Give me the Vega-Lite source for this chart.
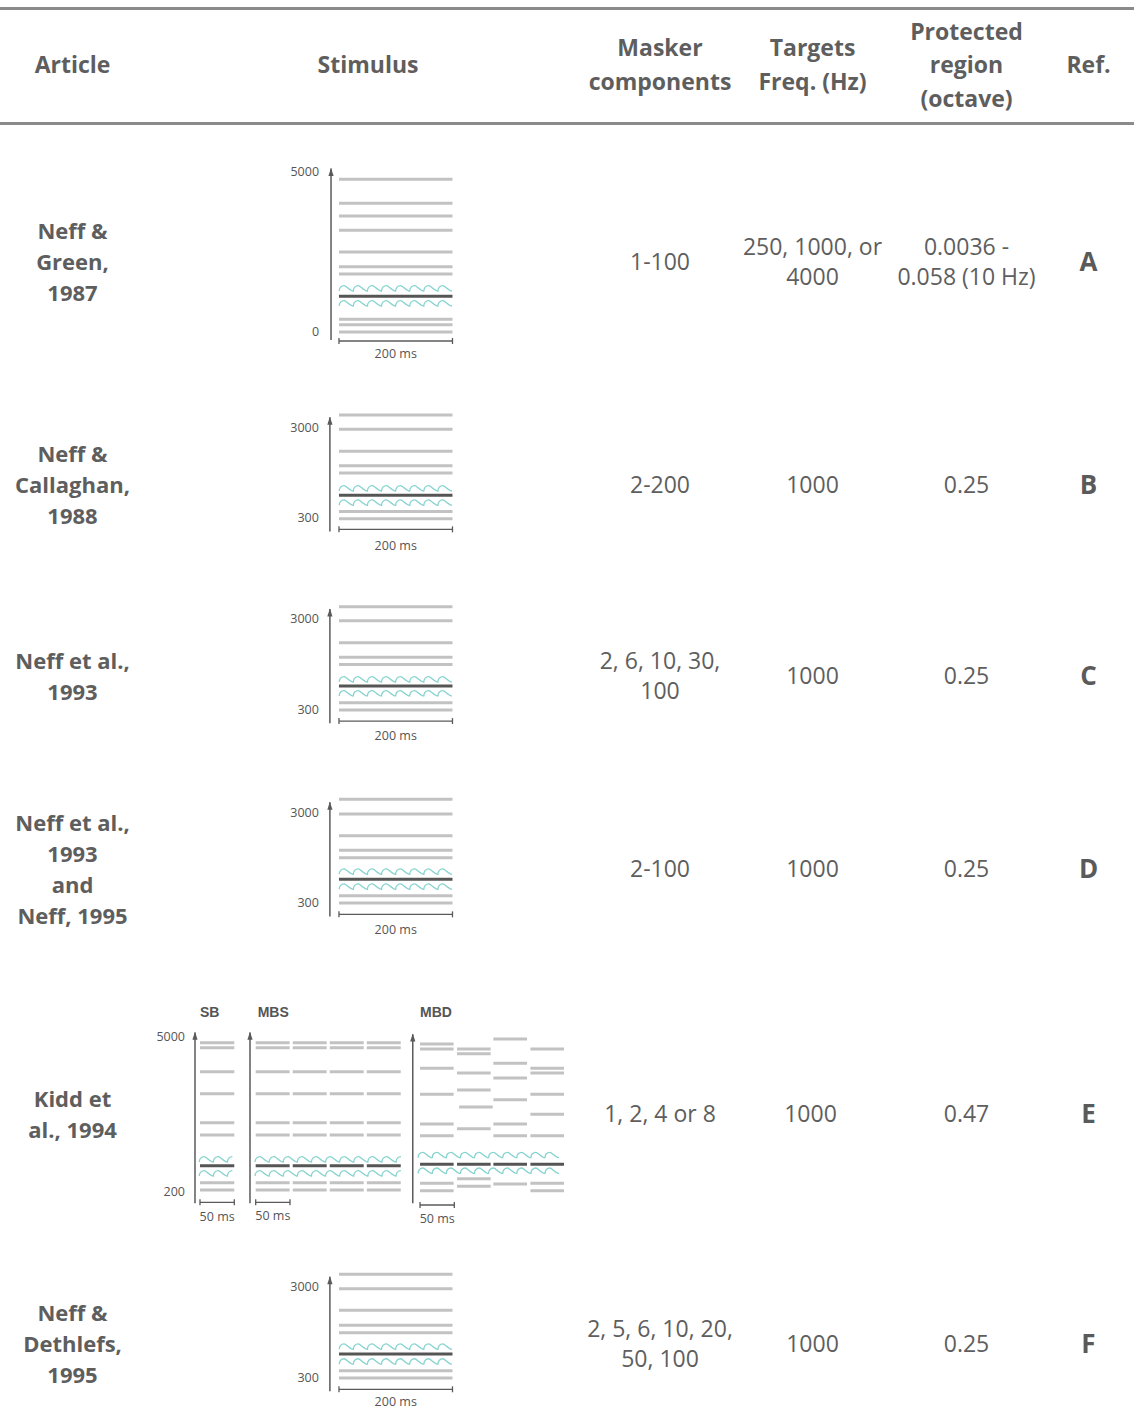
{
"$schema":"https://vega.github.io/schema/vega-lite/v6.json",
"padding":{"top":7,"bottom":0,"left":0,"right":0},
"background":"#ffffff",
"spacing":0,
"config":{"view":{"stroke":null},"concat":{"spacing":0},"axis":{"disable":true},"legend":{"disable":true}},
"datasets":{
"columns":[
{"col":"article","label":"Article"},
{"col":"stimulus","label":"Stimulus"},
{"col":"masker","label":"Masker\ncomponents"},
{"col":"targets","label":"Targets\nFreq. (Hz)"},
{"col":"protected","label":"Protected\nregion\n(octave)"},
{"col":"ref","label":"Ref."}
],
"table":[
{"ref":"A","article":"Neff &\nGreen,\n1987","masker":"1-100","targets":"250, 1000, or\n4000","protected":"0.0036 -\n0.058 (10 Hz)"},
{"ref":"B","article":"Neff &\nCallaghan,\n1988","masker":"2-200","targets":"1000","protected":"0.25"},
{"ref":"C","article":"Neff et al.,\n1993","masker":"2, 6, 10, 30,\n100","targets":"1000","protected":"0.25"},
{"ref":"D","article":"Neff et al.,\n1993\nand\nNeff, 1995","masker":"2-100","targets":"1000","protected":"0.25"},
{"ref":"E","article":"Kidd et\nal., 1994","masker":"1, 2, 4 or 8","targets":"1000","protected":"0.47"},
{"ref":"F","article":"Neff &\nDethlefs,\n1995","masker":"2, 5, 6, 10, 20,\n50, 100","targets":"1000","protected":"0.25"}
],
"stim":[
{"ref":"A","kind":"masker","t0":0,"t1":200,"f":4770},
{"ref":"A","kind":"masker","t0":0,"t1":200,"f":4020},
{"ref":"A","kind":"masker","t0":0,"t1":200,"f":3625},
{"ref":"A","kind":"masker","t0":0,"t1":200,"f":3180},
{"ref":"A","kind":"masker","t0":0,"t1":200,"f":2500},
{"ref":"A","kind":"masker","t0":0,"t1":200,"f":2040},
{"ref":"A","kind":"masker","t0":0,"t1":200,"f":1810},
{"ref":"A","kind":"masker","t0":0,"t1":200,"f":395},
{"ref":"A","kind":"masker","t0":0,"t1":200,"f":230},
{"ref":"A","kind":"masker","t0":0,"t1":200,"f":0},
{"ref":"A","kind":"target","t0":0,"t1":200,"f":1115},
{"ref":"A","kind":"wave","t":100,"f":1366},
{"ref":"A","kind":"wave","t":100,"f":897},
{"ref":"A","kind":"axis","f":5000,"label":"5000"},
{"ref":"A","kind":"axis","f":0,"label":"0"},
{"ref":"A","kind":"scale","t0":0,"t1":200,"tmid":100,"label":"200 ms"},

{"ref":"B","kind":"masker","t0":0,"t1":200,"f":3380},
{"ref":"B","kind":"masker","t0":0,"t1":200,"f":2955},
{"ref":"B","kind":"masker","t0":0,"t1":200,"f":2300},
{"ref":"B","kind":"masker","t0":0,"t1":200,"f":1870},
{"ref":"B","kind":"masker","t0":0,"t1":200,"f":1650},
{"ref":"B","kind":"masker","t0":0,"t1":200,"f":500},
{"ref":"B","kind":"masker","t0":0,"t1":200,"f":290},
{"ref":"B","kind":"target","t0":0,"t1":200,"f":990},
{"ref":"B","kind":"wave","t":100,"f":1195},
{"ref":"B","kind":"wave","t":100,"f":770},
{"ref":"B","kind":"axis","f":3000,"label":"3000"},
{"ref":"B","kind":"axis","f":300,"label":"300"},
{"ref":"B","kind":"scale","t0":0,"t1":200,"tmid":100,"label":"200 ms"},

{"ref":"C","kind":"masker","t0":0,"t1":200,"f":3380},
{"ref":"C","kind":"masker","t0":0,"t1":200,"f":2960},
{"ref":"C","kind":"masker","t0":0,"t1":200,"f":2305},
{"ref":"C","kind":"masker","t0":0,"t1":200,"f":1870},
{"ref":"C","kind":"masker","t0":0,"t1":200,"f":1660},
{"ref":"C","kind":"masker","t0":0,"t1":200,"f":515},
{"ref":"C","kind":"masker","t0":0,"t1":200,"f":300},
{"ref":"C","kind":"target","t0":0,"t1":200,"f":1015},
{"ref":"C","kind":"wave","t":100,"f":1215},
{"ref":"C","kind":"wave","t":100,"f":800},
{"ref":"C","kind":"axis","f":3000,"label":"3000"},
{"ref":"C","kind":"axis","f":300,"label":"300"},
{"ref":"C","kind":"scale","t0":0,"t1":200,"tmid":100,"label":"200 ms"},

{"ref":"D","kind":"masker","t0":0,"t1":200,"f":3400},
{"ref":"D","kind":"masker","t0":0,"t1":200,"f":2965},
{"ref":"D","kind":"masker","t0":0,"t1":200,"f":2315},
{"ref":"D","kind":"masker","t0":0,"t1":200,"f":1880},
{"ref":"D","kind":"masker","t0":0,"t1":200,"f":1660},
{"ref":"D","kind":"masker","t0":0,"t1":200,"f":525},
{"ref":"D","kind":"masker","t0":0,"t1":200,"f":310},
{"ref":"D","kind":"target","t0":0,"t1":200,"f":1020},
{"ref":"D","kind":"wave","t":100,"f":1245},
{"ref":"D","kind":"wave","t":100,"f":800},
{"ref":"D","kind":"axis","f":3000,"label":"3000"},
{"ref":"D","kind":"axis","f":300,"label":"300"},
{"ref":"D","kind":"scale","t0":0,"t1":200,"tmid":100,"label":"200 ms"},

{"ref":"F","kind":"masker","t0":0,"t1":200,"f":3390},
{"ref":"F","kind":"masker","t0":0,"t1":200,"f":2960},
{"ref":"F","kind":"masker","t0":0,"t1":200,"f":2315},
{"ref":"F","kind":"masker","t0":0,"t1":200,"f":1870},
{"ref":"F","kind":"masker","t0":0,"t1":200,"f":1650},
{"ref":"F","kind":"masker","t0":0,"t1":200,"f":515},
{"ref":"F","kind":"masker","t0":0,"t1":200,"f":295},
{"ref":"F","kind":"target","t0":0,"t1":200,"f":1010},
{"ref":"F","kind":"wave","t":100,"f":1235},
{"ref":"F","kind":"wave","t":100,"f":790},
{"ref":"F","kind":"axis","f":3000,"label":"3000"},
{"ref":"F","kind":"axis","f":300,"label":"300"},
{"ref":"F","kind":"scale","t0":0,"t1":200,"tmid":100,"label":"200 ms"},

{"ref":"E","panel":"SB","kind":"masker","t0":0,"t1":50,"f":4814},
{"ref":"E","panel":"SB","kind":"masker","t0":0,"t1":50,"f":4660},
{"ref":"E","panel":"SB","kind":"masker","t0":0,"t1":50,"f":3916},
{"ref":"E","panel":"SB","kind":"masker","t0":0,"t1":50,"f":3235},
{"ref":"E","panel":"SB","kind":"masker","t0":0,"t1":50,"f":2337},
{"ref":"E","panel":"SB","kind":"masker","t0":0,"t1":50,"f":1956},
{"ref":"E","panel":"SB","kind":"masker","t0":0,"t1":50,"f":479},
{"ref":"E","panel":"SB","kind":"masker","t0":0,"t1":50,"f":253},
{"ref":"E","panel":"SB","kind":"target","t0":0,"t1":50,"f":1000},
{"ref":"E","panel":"SB","kind":"wave","t":23,"f":1203},
{"ref":"E","panel":"SB","kind":"wave","t":23,"f":770},
{"ref":"E","panel":"SB","kind":"axis","f":5000,"label":"5000"},
{"ref":"E","panel":"SB","kind":"axis","f":200,"label":"200"},
{"ref":"E","panel":"SB","kind":"scale","t0":0,"t1":50,"tmid":25,"label":"50 ms"},
{"ref":"E","panel":"SB","kind":"panel","label":"SB"},

{"ref":"E","panel":"MBS","kind":"masker","t0":0,"t1":49.5,"f":4814},
{"ref":"E","panel":"MBS","kind":"masker","t0":0,"t1":49.5,"f":4660},
{"ref":"E","panel":"MBS","kind":"masker","t0":0,"t1":49.5,"f":3916},
{"ref":"E","panel":"MBS","kind":"masker","t0":0,"t1":49.5,"f":3235},
{"ref":"E","panel":"MBS","kind":"masker","t0":0,"t1":49.5,"f":2337},
{"ref":"E","panel":"MBS","kind":"masker","t0":0,"t1":49.5,"f":1956},
{"ref":"E","panel":"MBS","kind":"masker","t0":0,"t1":49.5,"f":479},
{"ref":"E","panel":"MBS","kind":"masker","t0":0,"t1":49.5,"f":253},
{"ref":"E","panel":"MBS","kind":"masker","t0":54,"t1":103.5,"f":4814},
{"ref":"E","panel":"MBS","kind":"masker","t0":54,"t1":103.5,"f":4660},
{"ref":"E","panel":"MBS","kind":"masker","t0":54,"t1":103.5,"f":3916},
{"ref":"E","panel":"MBS","kind":"masker","t0":54,"t1":103.5,"f":3235},
{"ref":"E","panel":"MBS","kind":"masker","t0":54,"t1":103.5,"f":2337},
{"ref":"E","panel":"MBS","kind":"masker","t0":54,"t1":103.5,"f":1956},
{"ref":"E","panel":"MBS","kind":"masker","t0":54,"t1":103.5,"f":479},
{"ref":"E","panel":"MBS","kind":"masker","t0":54,"t1":103.5,"f":253},
{"ref":"E","panel":"MBS","kind":"masker","t0":108,"t1":157.5,"f":4814},
{"ref":"E","panel":"MBS","kind":"masker","t0":108,"t1":157.5,"f":4660},
{"ref":"E","panel":"MBS","kind":"masker","t0":108,"t1":157.5,"f":3916},
{"ref":"E","panel":"MBS","kind":"masker","t0":108,"t1":157.5,"f":3235},
{"ref":"E","panel":"MBS","kind":"masker","t0":108,"t1":157.5,"f":2337},
{"ref":"E","panel":"MBS","kind":"masker","t0":108,"t1":157.5,"f":1956},
{"ref":"E","panel":"MBS","kind":"masker","t0":108,"t1":157.5,"f":479},
{"ref":"E","panel":"MBS","kind":"masker","t0":108,"t1":157.5,"f":253},
{"ref":"E","panel":"MBS","kind":"masker","t0":162,"t1":211.5,"f":4814},
{"ref":"E","panel":"MBS","kind":"masker","t0":162,"t1":211.5,"f":4660},
{"ref":"E","panel":"MBS","kind":"masker","t0":162,"t1":211.5,"f":3916},
{"ref":"E","panel":"MBS","kind":"masker","t0":162,"t1":211.5,"f":3235},
{"ref":"E","panel":"MBS","kind":"masker","t0":162,"t1":211.5,"f":2337},
{"ref":"E","panel":"MBS","kind":"masker","t0":162,"t1":211.5,"f":1956},
{"ref":"E","panel":"MBS","kind":"masker","t0":162,"t1":211.5,"f":479},
{"ref":"E","panel":"MBS","kind":"masker","t0":162,"t1":211.5,"f":253},
{"ref":"E","panel":"MBS","kind":"target","t0":0,"t1":49.5,"f":1000},
{"ref":"E","panel":"MBS","kind":"target","t0":54,"t1":103.5,"f":1000},
{"ref":"E","panel":"MBS","kind":"target","t0":108,"t1":157.5,"f":1000},
{"ref":"E","panel":"MBS","kind":"target","t0":162,"t1":211.5,"f":1000},
{"ref":"E","panel":"MBS","kind":"wave","t":105.5,"f":1203},
{"ref":"E","panel":"MBS","kind":"wave","t":105.5,"f":770},
{"ref":"E","panel":"MBS","kind":"scale","t0":0,"t1":50,"tmid":25,"label":"50 ms"},
{"ref":"E","panel":"MBS","kind":"panel","label":"MBS"},

{"ref":"E","panel":"MBD","kind":"masker","t0":0,"t1":49,"f":4774},
{"ref":"E","panel":"MBD","kind":"masker","t0":0,"t1":49,"f":4619},
{"ref":"E","panel":"MBD","kind":"masker","t0":0,"t1":49,"f":4022},
{"ref":"E","panel":"MBD","kind":"masker","t0":0,"t1":49,"f":3216},
{"ref":"E","panel":"MBD","kind":"masker","t0":0,"t1":49,"f":2297},
{"ref":"E","panel":"MBD","kind":"masker","t0":0,"t1":49,"f":1934},
{"ref":"E","panel":"MBD","kind":"masker","t0":0,"t1":49,"f":460},
{"ref":"E","panel":"MBD","kind":"masker","t0":0,"t1":49,"f":231},
{"ref":"E","panel":"MBD","kind":"masker","t0":54,"t1":103,"f":4619},
{"ref":"E","panel":"MBD","kind":"masker","t0":54,"t1":103,"f":4474},
{"ref":"E","panel":"MBD","kind":"masker","t0":54,"t1":103,"f":3876},
{"ref":"E","panel":"MBD","kind":"masker","t0":54,"t1":103,"f":3350},
{"ref":"E","panel":"MBD","kind":"masker","t0":57,"t1":106,"f":2823},
{"ref":"E","panel":"MBD","kind":"masker","t0":54,"t1":103,"f":2151},
{"ref":"E","panel":"MBD","kind":"masker","t0":54,"t1":103,"f":603},
{"ref":"E","panel":"MBD","kind":"masker","t0":54,"t1":103,"f":367},
{"ref":"E","panel":"MBD","kind":"masker","t0":107,"t1":156,"f":4929},
{"ref":"E","panel":"MBD","kind":"masker","t0":107,"t1":156,"f":4177},
{"ref":"E","panel":"MBD","kind":"masker","t0":107,"t1":156,"f":3721},
{"ref":"E","panel":"MBD","kind":"masker","t0":107,"t1":156,"f":3049},
{"ref":"E","panel":"MBD","kind":"masker","t0":107,"t1":156,"f":2297},
{"ref":"E","panel":"MBD","kind":"masker","t0":107,"t1":156,"f":1934},
{"ref":"E","panel":"MBD","kind":"masker","t0":107,"t1":156,"f":438},
{"ref":"E","panel":"MBD","kind":"masker","t0":161,"t1":210,"f":4619},
{"ref":"E","panel":"MBD","kind":"masker","t0":161,"t1":210,"f":4022},
{"ref":"E","panel":"MBD","kind":"masker","t0":161,"t1":210,"f":3876},
{"ref":"E","panel":"MBD","kind":"masker","t0":161,"t1":210,"f":3216},
{"ref":"E","panel":"MBD","kind":"masker","t0":161,"t1":210,"f":2597},
{"ref":"E","panel":"MBD","kind":"masker","t0":161,"t1":210,"f":1934},
{"ref":"E","panel":"MBD","kind":"masker","t0":161,"t1":210,"f":460},
{"ref":"E","panel":"MBD","kind":"masker","t0":161,"t1":210,"f":231},
{"ref":"E","panel":"MBD","kind":"target","t0":0,"t1":49,"f":1050},
{"ref":"E","panel":"MBD","kind":"target","t0":54,"t1":103,"f":1050},
{"ref":"E","panel":"MBD","kind":"target","t0":107,"t1":156,"f":1050},
{"ref":"E","panel":"MBD","kind":"target","t0":161,"t1":210,"f":1050},
{"ref":"E","panel":"MBD","kind":"wave","t":100,"f":1337},
{"ref":"E","panel":"MBD","kind":"wave","t":100,"f":850},
{"ref":"E","panel":"MBD","kind":"scale","t0":0,"t1":50,"tmid":25,"label":"50 ms"},
{"ref":"E","panel":"MBD","kind":"panel","label":"MBD"}
]
},
"vconcat":[
{"width":1134,"height":3,"data":{"values":[{"line":"top border"}]},"mark":{"type":"rect","color":"#8a8a8a"},"encoding":{}},
{"hconcat":[
{"width":145,"height":112,"data":{"name":"columns"},"transform":[{"filter":"datum.col === 'article'"}],"mark":{"type":"text","font":"Open Sans","fontSize":23,"fontWeight":"bold","color":"#5e5e5e","lineBreak":"\n","lineHeight":33.5,"align":"center","baseline":"middle"},"encoding":{"text":{"field":"label","type":"nominal"}}},
{"width":440,"height":112,"data":{"name":"columns"},"transform":[{"filter":"datum.col === 'stimulus'"}],"mark":{"type":"text","font":"Open Sans","fontSize":23,"fontWeight":"bold","color":"#5e5e5e","lineBreak":"\n","lineHeight":33.5,"align":"center","baseline":"middle","dx":3},"encoding":{"text":{"field":"label","type":"nominal"}}},
{"width":150,"height":112,"data":{"name":"columns"},"transform":[{"filter":"datum.col === 'masker'"}],"mark":{"type":"text","font":"Open Sans","fontSize":23,"fontWeight":"bold","color":"#5e5e5e","lineBreak":"\n","lineHeight":33.5,"align":"center","baseline":"middle","dy":-16.75},"encoding":{"text":{"field":"label","type":"nominal"}}},
{"width":155,"height":112,"data":{"name":"columns"},"transform":[{"filter":"datum.col === 'targets'"}],"mark":{"type":"text","font":"Open Sans","fontSize":23,"fontWeight":"bold","color":"#5e5e5e","lineBreak":"\n","lineHeight":33.5,"align":"center","baseline":"middle","dy":-16.75},"encoding":{"text":{"field":"label","type":"nominal"}}},
{"width":153,"height":112,"data":{"name":"columns"},"transform":[{"filter":"datum.col === 'protected'"}],"mark":{"type":"text","font":"Open Sans","fontSize":23,"fontWeight":"bold","color":"#5e5e5e","lineBreak":"\n","lineHeight":33.5,"align":"center","baseline":"middle","dy":-33.5},"encoding":{"text":{"field":"label","type":"nominal"}}},
{"width":91,"height":112,"data":{"name":"columns"},"transform":[{"filter":"datum.col === 'ref'"}],"mark":{"type":"text","font":"Open Sans","fontSize":23,"fontWeight":"bold","color":"#5e5e5e","lineBreak":"\n","lineHeight":33.5,"align":"center","baseline":"middle"},"encoding":{"text":{"field":"label","type":"nominal"}}}
],"spacing":0,"bounds":"flush"},
{"width":1134,"height":3,"data":{"values":[{"line":"header border"}]},"mark":{"type":"rect","color":"#8a8a8a"},"encoding":{}},

{"hconcat":[
{"width":145,"height":275,"data":{"name":"table"},"transform":[{"filter":"datum.ref === 'A'"}],"mark":{"type":"text","font":"Open Sans","fontSize":22,"fontWeight":"bold","color":"#5e5e5e","lineBreak":"\n","lineHeight":31,"align":"center","baseline":"middle","dy":-31},"encoding":{"text":{"field":"article","type":"nominal"}}},
{"width":440,"height":275,"data":{"name":"stim"},"transform":[{"filter":"datum.ref === 'A'"}],"layer":[
{"transform":[{"filter":"datum.kind === 'masker'"}],"mark":{"type":"rule","stroke":"#c2c2c2","strokeWidth":3},"encoding":{"x":{"field":"t0","type":"quantitative","scale":{"domain":[-341.8,433.5],"nice":false,"zero":false}},"x2":{"field":"t1"},"y":{"field":"f","type":"quantitative","scale":{"domain":[-2125,6468.75],"nice":false,"zero":false}}}},
{"transform":[{"filter":"datum.kind === 'target'"}],"mark":{"type":"rule","stroke":"#555555","strokeWidth":3},"encoding":{"x":{"field":"t0","type":"quantitative"},"x2":{"field":"t1"},"y":{"field":"f","type":"quantitative"}}},
{"transform":[{"filter":"datum.kind === 'wave'"}],"mark":{"type":"point","shape":"M-56.5,2.7c0,-3.2,2.1,-5.4,4.9,-5.4c2.1,0,5.6,5.4,9.2,5.4c0,-3.2,2.1,-5.4,4.9,-5.4c2.1,0,5.6,5.4,9.2,5.4c0,-3.2,2.1,-5.4,4.9,-5.4c2.1,0,5.6,5.4,9.2,5.4c0,-3.2,2.1,-5.4,4.9,-5.4c2.1,0,5.6,5.4,9.2,5.4c0,-3.2,2.1,-5.4,4.9,-5.4c2.1,0,5.6,5.4,9.2,5.4c0,-3.2,2.1,-5.4,4.9,-5.4c2.1,0,5.6,5.4,9.2,5.4c0,-3.2,2.1,-5.4,4.9,-5.4c2.1,0,5.6,5.4,9.2,5.4c0,-3.2,2.1,-5.4,4.9,-5.4c2.1,0,5.6,5.4,9.2,5.4","size":4,"filled":false,"stroke":"#86d3cf","strokeWidth":1.3,"opacity":1},"encoding":{"x":{"field":"t","type":"quantitative"},"y":{"field":"f","type":"quantitative"}}},
{"transform":[{"filter":"datum.kind === 'scale'"}],"mark":{"type":"rule","stroke":"#5a5a5a","strokeWidth":1.5},"encoding":{"x":{"datum":-14},"y":{"datum":-250},"y2":{"datum":5110}}},
{"transform":[{"filter":"datum.kind === 'scale'"}],"mark":{"type":"point","shape":"M0,0L2.6,8L-2.6,8Z","size":4,"filled":true,"color":"#5a5a5a","opacity":1},"encoding":{"x":{"datum":-14},"y":{"datum":5125}}},
{"transform":[{"filter":"datum.kind === 'axis'"}],"mark":{"type":"text","font":"Open Sans","fontSize":12.5,"color":"#555555","align":"right","baseline":"middle","dx":-12},"encoding":{"x":{"datum":-14},"y":{"field":"f","type":"quantitative"},"text":{"field":"label","type":"nominal"}}},
{"transform":[{"filter":"datum.kind === 'scale'"}],"mark":{"type":"rule","stroke":"#5a5a5a","strokeWidth":1.3},"encoding":{"x":{"field":"t0","type":"quantitative"},"x2":{"field":"t1"},"y":{"datum":-281}}},
{"transform":[{"filter":"datum.kind === 'scale'"}],"mark":{"type":"point","shape":"M0,-3L0,3","size":4,"filled":false,"stroke":"#5a5a5a","strokeWidth":1.3,"opacity":1},"encoding":{"x":{"field":"t0","type":"quantitative"},"y":{"datum":-281}}},
{"transform":[{"filter":"datum.kind === 'scale'"}],"mark":{"type":"point","shape":"M0,-3L0,3","size":4,"filled":false,"stroke":"#5a5a5a","strokeWidth":1.3,"opacity":1},"encoding":{"x":{"field":"t1","type":"quantitative"},"y":{"datum":-281}}},
{"transform":[{"filter":"datum.kind === 'scale'"}],"mark":{"type":"text","font":"Open Sans","fontSize":12.5,"color":"#555555","align":"center","baseline":"middle"},"encoding":{"x":{"field":"tmid","type":"quantitative"},"y":{"datum":-688},"text":{"field":"label","type":"nominal"}}}
]},
{"width":150,"height":275,"data":{"name":"table"},"transform":[{"filter":"datum.ref === 'A'"}],"mark":{"type":"text","font":"Open Sans","fontSize":23,"color":"#5e5e5e","lineBreak":"\n","lineHeight":30,"align":"center","baseline":"middle"},"encoding":{"text":{"field":"masker","type":"nominal"}}},
{"width":155,"height":275,"data":{"name":"table"},"transform":[{"filter":"datum.ref === 'A'"}],"mark":{"type":"text","font":"Open Sans","fontSize":23,"color":"#5e5e5e","lineBreak":"\n","lineHeight":30,"align":"center","baseline":"middle","dy":-15},"encoding":{"text":{"field":"targets","type":"nominal"}}},
{"width":153,"height":275,"data":{"name":"table"},"transform":[{"filter":"datum.ref === 'A'"}],"mark":{"type":"text","font":"Open Sans","fontSize":23,"color":"#5e5e5e","lineBreak":"\n","lineHeight":30,"align":"center","baseline":"middle","dy":-15},"encoding":{"text":{"field":"protected","type":"nominal"}}},
{"width":91,"height":275,"data":{"name":"table"},"transform":[{"filter":"datum.ref === 'A'"}],"mark":{"type":"text","font":"Open Sans","fontSize":26,"fontWeight":"bold","color":"#5a5a5a","align":"center","baseline":"middle"},"encoding":{"text":{"field":"ref","type":"nominal"}}}
],"spacing":0,"bounds":"flush"},

{"hconcat":[
{"width":145,"height":172,"data":{"name":"table"},"transform":[{"filter":"datum.ref === 'B'"}],"mark":{"type":"text","font":"Open Sans","fontSize":22,"fontWeight":"bold","color":"#5e5e5e","lineBreak":"\n","lineHeight":31,"align":"center","baseline":"middle","dy":-31},"encoding":{"text":{"field":"article","type":"nominal"}}},
{"width":440,"height":172,"data":{"name":"stim"},"transform":[{"filter":"datum.ref === 'B'"}],"layer":[
{"transform":[{"filter":"datum.kind === 'masker'"}],"mark":{"type":"rule","stroke":"#c2c2c2","strokeWidth":3},"encoding":{"x":{"field":"t0","type":"quantitative","scale":{"domain":[-341.8,433.5],"nice":false,"zero":false}},"x2":{"field":"t1"},"y":{"field":"f","type":"quantitative","scale":{"domain":[-1302,3829],"nice":false,"zero":false}}}},
{"transform":[{"filter":"datum.kind === 'target'"}],"mark":{"type":"rule","stroke":"#555555","strokeWidth":3},"encoding":{"x":{"field":"t0","type":"quantitative"},"x2":{"field":"t1"},"y":{"field":"f","type":"quantitative"}}},
{"transform":[{"filter":"datum.kind === 'wave'"}],"mark":{"type":"point","shape":"M-56.5,2.7c0,-3.2,2.1,-5.4,4.9,-5.4c2.1,0,5.6,5.4,9.2,5.4c0,-3.2,2.1,-5.4,4.9,-5.4c2.1,0,5.6,5.4,9.2,5.4c0,-3.2,2.1,-5.4,4.9,-5.4c2.1,0,5.6,5.4,9.2,5.4c0,-3.2,2.1,-5.4,4.9,-5.4c2.1,0,5.6,5.4,9.2,5.4c0,-3.2,2.1,-5.4,4.9,-5.4c2.1,0,5.6,5.4,9.2,5.4c0,-3.2,2.1,-5.4,4.9,-5.4c2.1,0,5.6,5.4,9.2,5.4c0,-3.2,2.1,-5.4,4.9,-5.4c2.1,0,5.6,5.4,9.2,5.4c0,-3.2,2.1,-5.4,4.9,-5.4c2.1,0,5.6,5.4,9.2,5.4","size":4,"filled":false,"stroke":"#86d3cf","strokeWidth":1.3,"opacity":1},"encoding":{"x":{"field":"t","type":"quantitative"},"y":{"field":"f","type":"quantitative"}}},
{"transform":[{"filter":"datum.kind === 'scale'"}],"mark":{"type":"rule","stroke":"#5a5a5a","strokeWidth":1.5},"encoding":{"x":{"datum":-16},"y":{"datum":-97},"y2":{"datum":3315}}},
{"transform":[{"filter":"datum.kind === 'scale'"}],"mark":{"type":"point","shape":"M0,0L2.6,8L-2.6,8Z","size":4,"filled":true,"color":"#5a5a5a","opacity":1},"encoding":{"x":{"datum":-16},"y":{"datum":3330}}},
{"transform":[{"filter":"datum.kind === 'axis'"}],"mark":{"type":"text","font":"Open Sans","fontSize":12.5,"color":"#555555","align":"right","baseline":"middle","dx":-11},"encoding":{"x":{"datum":-16},"y":{"field":"f","type":"quantitative"},"text":{"field":"label","type":"nominal"}}},
{"transform":[{"filter":"datum.kind === 'scale'"}],"mark":{"type":"rule","stroke":"#5a5a5a","strokeWidth":1.3},"encoding":{"x":{"field":"t0","type":"quantitative"},"x2":{"field":"t1"},"y":{"datum":-30}}},
{"transform":[{"filter":"datum.kind === 'scale'"}],"mark":{"type":"point","shape":"M0,-3L0,3","size":4,"filled":false,"stroke":"#5a5a5a","strokeWidth":1.3,"opacity":1},"encoding":{"x":{"field":"t0","type":"quantitative"},"y":{"datum":-30}}},
{"transform":[{"filter":"datum.kind === 'scale'"}],"mark":{"type":"point","shape":"M0,-3L0,3","size":4,"filled":false,"stroke":"#5a5a5a","strokeWidth":1.3,"opacity":1},"encoding":{"x":{"field":"t1","type":"quantitative"},"y":{"datum":-30}}},
{"transform":[{"filter":"datum.kind === 'scale'"}],"mark":{"type":"text","font":"Open Sans","fontSize":12.5,"color":"#555555","align":"center","baseline":"middle"},"encoding":{"x":{"field":"tmid","type":"quantitative"},"y":{"datum":-517},"text":{"field":"label","type":"nominal"}}}
]},
{"width":150,"height":172,"data":{"name":"table"},"transform":[{"filter":"datum.ref === 'B'"}],"mark":{"type":"text","font":"Open Sans","fontSize":23,"color":"#5e5e5e","lineBreak":"\n","lineHeight":30,"align":"center","baseline":"middle"},"encoding":{"text":{"field":"masker","type":"nominal"}}},
{"width":155,"height":172,"data":{"name":"table"},"transform":[{"filter":"datum.ref === 'B'"}],"mark":{"type":"text","font":"Open Sans","fontSize":23,"color":"#5e5e5e","lineBreak":"\n","lineHeight":30,"align":"center","baseline":"middle"},"encoding":{"text":{"field":"targets","type":"nominal"}}},
{"width":153,"height":172,"data":{"name":"table"},"transform":[{"filter":"datum.ref === 'B'"}],"mark":{"type":"text","font":"Open Sans","fontSize":23,"color":"#5e5e5e","lineBreak":"\n","lineHeight":30,"align":"center","baseline":"middle"},"encoding":{"text":{"field":"protected","type":"nominal"}}},
{"width":91,"height":172,"data":{"name":"table"},"transform":[{"filter":"datum.ref === 'B'"}],"mark":{"type":"text","font":"Open Sans","fontSize":26,"fontWeight":"bold","color":"#5a5a5a","align":"center","baseline":"middle"},"encoding":{"text":{"field":"ref","type":"nominal"}}}
],"spacing":0,"bounds":"flush"},

{"hconcat":[
{"width":145,"height":210,"data":{"name":"table"},"transform":[{"filter":"datum.ref === 'C'"}],"mark":{"type":"text","font":"Open Sans","fontSize":22,"fontWeight":"bold","color":"#5e5e5e","lineBreak":"\n","lineHeight":31,"align":"center","baseline":"middle","dy":-15.5},"encoding":{"text":{"field":"article","type":"nominal"}}},
{"width":440,"height":210,"data":{"name":"stim"},"transform":[{"filter":"datum.ref === 'C'"}],"layer":[
{"transform":[{"filter":"datum.kind === 'masker'"}],"mark":{"type":"rule","stroke":"#c2c2c2","strokeWidth":3},"encoding":{"x":{"field":"t0","type":"quantitative","scale":{"domain":[-341.8,433.5],"nice":false,"zero":false}},"x2":{"field":"t1"},"y":{"field":"f","type":"quantitative","scale":{"domain":[-1848,4417],"nice":false,"zero":false}}}},
{"transform":[{"filter":"datum.kind === 'target'"}],"mark":{"type":"rule","stroke":"#555555","strokeWidth":3},"encoding":{"x":{"field":"t0","type":"quantitative"},"x2":{"field":"t1"},"y":{"field":"f","type":"quantitative"}}},
{"transform":[{"filter":"datum.kind === 'wave'"}],"mark":{"type":"point","shape":"M-56.5,2.7c0,-3.2,2.1,-5.4,4.9,-5.4c2.1,0,5.6,5.4,9.2,5.4c0,-3.2,2.1,-5.4,4.9,-5.4c2.1,0,5.6,5.4,9.2,5.4c0,-3.2,2.1,-5.4,4.9,-5.4c2.1,0,5.6,5.4,9.2,5.4c0,-3.2,2.1,-5.4,4.9,-5.4c2.1,0,5.6,5.4,9.2,5.4c0,-3.2,2.1,-5.4,4.9,-5.4c2.1,0,5.6,5.4,9.2,5.4c0,-3.2,2.1,-5.4,4.9,-5.4c2.1,0,5.6,5.4,9.2,5.4c0,-3.2,2.1,-5.4,4.9,-5.4c2.1,0,5.6,5.4,9.2,5.4c0,-3.2,2.1,-5.4,4.9,-5.4c2.1,0,5.6,5.4,9.2,5.4","size":4,"filled":false,"stroke":"#86d3cf","strokeWidth":1.3,"opacity":1},"encoding":{"x":{"field":"t","type":"quantitative"},"y":{"field":"f","type":"quantitative"}}},
{"transform":[{"filter":"datum.kind === 'scale'"}],"mark":{"type":"rule","stroke":"#5a5a5a","strokeWidth":1.5},"encoding":{"x":{"datum":-16},"y":{"datum":-97},"y2":{"datum":3315}}},
{"transform":[{"filter":"datum.kind === 'scale'"}],"mark":{"type":"point","shape":"M0,0L2.6,8L-2.6,8Z","size":4,"filled":true,"color":"#5a5a5a","opacity":1},"encoding":{"x":{"datum":-16},"y":{"datum":3330}}},
{"transform":[{"filter":"datum.kind === 'axis'"}],"mark":{"type":"text","font":"Open Sans","fontSize":12.5,"color":"#555555","align":"right","baseline":"middle","dx":-11},"encoding":{"x":{"datum":-16},"y":{"field":"f","type":"quantitative"},"text":{"field":"label","type":"nominal"}}},
{"transform":[{"filter":"datum.kind === 'scale'"}],"mark":{"type":"rule","stroke":"#5a5a5a","strokeWidth":1.3},"encoding":{"x":{"field":"t0","type":"quantitative"},"x2":{"field":"t1"},"y":{"datum":-30}}},
{"transform":[{"filter":"datum.kind === 'scale'"}],"mark":{"type":"point","shape":"M0,-3L0,3","size":4,"filled":false,"stroke":"#5a5a5a","strokeWidth":1.3,"opacity":1},"encoding":{"x":{"field":"t0","type":"quantitative"},"y":{"datum":-30}}},
{"transform":[{"filter":"datum.kind === 'scale'"}],"mark":{"type":"point","shape":"M0,-3L0,3","size":4,"filled":false,"stroke":"#5a5a5a","strokeWidth":1.3,"opacity":1},"encoding":{"x":{"field":"t1","type":"quantitative"},"y":{"datum":-30}}},
{"transform":[{"filter":"datum.kind === 'scale'"}],"mark":{"type":"text","font":"Open Sans","fontSize":12.5,"color":"#555555","align":"center","baseline":"middle"},"encoding":{"x":{"field":"tmid","type":"quantitative"},"y":{"datum":-467},"text":{"field":"label","type":"nominal"}}}
]},
{"width":150,"height":210,"data":{"name":"table"},"transform":[{"filter":"datum.ref === 'C'"}],"mark":{"type":"text","font":"Open Sans","fontSize":23,"color":"#5e5e5e","lineBreak":"\n","lineHeight":30,"align":"center","baseline":"middle","dy":-15},"encoding":{"text":{"field":"masker","type":"nominal"}}},
{"width":155,"height":210,"data":{"name":"table"},"transform":[{"filter":"datum.ref === 'C'"}],"mark":{"type":"text","font":"Open Sans","fontSize":23,"color":"#5e5e5e","lineBreak":"\n","lineHeight":30,"align":"center","baseline":"middle"},"encoding":{"text":{"field":"targets","type":"nominal"}}},
{"width":153,"height":210,"data":{"name":"table"},"transform":[{"filter":"datum.ref === 'C'"}],"mark":{"type":"text","font":"Open Sans","fontSize":23,"color":"#5e5e5e","lineBreak":"\n","lineHeight":30,"align":"center","baseline":"middle"},"encoding":{"text":{"field":"protected","type":"nominal"}}},
{"width":91,"height":210,"data":{"name":"table"},"transform":[{"filter":"datum.ref === 'C'"}],"mark":{"type":"text","font":"Open Sans","fontSize":26,"fontWeight":"bold","color":"#5a5a5a","align":"center","baseline":"middle"},"encoding":{"text":{"field":"ref","type":"nominal"}}}
],"spacing":0,"bounds":"flush"},

{"hconcat":[
{"width":145,"height":176,"data":{"name":"table"},"transform":[{"filter":"datum.ref === 'D'"}],"mark":{"type":"text","font":"Open Sans","fontSize":22,"fontWeight":"bold","color":"#5e5e5e","lineBreak":"\n","lineHeight":31,"align":"center","baseline":"middle","dy":-46.5},"encoding":{"text":{"field":"article","type":"nominal"}}},
{"width":440,"height":176,"data":{"name":"stim"},"transform":[{"filter":"datum.ref === 'D'"}],"layer":[
{"transform":[{"filter":"datum.kind === 'masker'"}],"mark":{"type":"rule","stroke":"#c2c2c2","strokeWidth":3},"encoding":{"x":{"field":"t0","type":"quantitative","scale":{"domain":[-341.8,433.5],"nice":false,"zero":false}},"x2":{"field":"t1"},"y":{"field":"f","type":"quantitative","scale":{"domain":[-1332,3918],"nice":false,"zero":false}}}},
{"transform":[{"filter":"datum.kind === 'target'"}],"mark":{"type":"rule","stroke":"#555555","strokeWidth":3},"encoding":{"x":{"field":"t0","type":"quantitative"},"x2":{"field":"t1"},"y":{"field":"f","type":"quantitative"}}},
{"transform":[{"filter":"datum.kind === 'wave'"}],"mark":{"type":"point","shape":"M-56.5,2.7c0,-3.2,2.1,-5.4,4.9,-5.4c2.1,0,5.6,5.4,9.2,5.4c0,-3.2,2.1,-5.4,4.9,-5.4c2.1,0,5.6,5.4,9.2,5.4c0,-3.2,2.1,-5.4,4.9,-5.4c2.1,0,5.6,5.4,9.2,5.4c0,-3.2,2.1,-5.4,4.9,-5.4c2.1,0,5.6,5.4,9.2,5.4c0,-3.2,2.1,-5.4,4.9,-5.4c2.1,0,5.6,5.4,9.2,5.4c0,-3.2,2.1,-5.4,4.9,-5.4c2.1,0,5.6,5.4,9.2,5.4c0,-3.2,2.1,-5.4,4.9,-5.4c2.1,0,5.6,5.4,9.2,5.4c0,-3.2,2.1,-5.4,4.9,-5.4c2.1,0,5.6,5.4,9.2,5.4","size":4,"filled":false,"stroke":"#86d3cf","strokeWidth":1.3,"opacity":1},"encoding":{"x":{"field":"t","type":"quantitative"},"y":{"field":"f","type":"quantitative"}}},
{"transform":[{"filter":"datum.kind === 'scale'"}],"mark":{"type":"rule","stroke":"#5a5a5a","strokeWidth":1.5},"encoding":{"x":{"datum":-16},"y":{"datum":-97},"y2":{"datum":3315}}},
{"transform":[{"filter":"datum.kind === 'scale'"}],"mark":{"type":"point","shape":"M0,0L2.6,8L-2.6,8Z","size":4,"filled":true,"color":"#5a5a5a","opacity":1},"encoding":{"x":{"datum":-16},"y":{"datum":3330}}},
{"transform":[{"filter":"datum.kind === 'axis'"}],"mark":{"type":"text","font":"Open Sans","fontSize":12.5,"color":"#555555","align":"right","baseline":"middle","dx":-11},"encoding":{"x":{"datum":-16},"y":{"field":"f","type":"quantitative"},"text":{"field":"label","type":"nominal"}}},
{"transform":[{"filter":"datum.kind === 'scale'"}],"mark":{"type":"rule","stroke":"#5a5a5a","strokeWidth":1.3},"encoding":{"x":{"field":"t0","type":"quantitative"},"x2":{"field":"t1"},"y":{"datum":-30}}},
{"transform":[{"filter":"datum.kind === 'scale'"}],"mark":{"type":"point","shape":"M0,-3L0,3","size":4,"filled":false,"stroke":"#5a5a5a","strokeWidth":1.3,"opacity":1},"encoding":{"x":{"field":"t0","type":"quantitative"},"y":{"datum":-30}}},
{"transform":[{"filter":"datum.kind === 'scale'"}],"mark":{"type":"point","shape":"M0,-3L0,3","size":4,"filled":false,"stroke":"#5a5a5a","strokeWidth":1.3,"opacity":1},"encoding":{"x":{"field":"t1","type":"quantitative"},"y":{"datum":-30}}},
{"transform":[{"filter":"datum.kind === 'scale'"}],"mark":{"type":"text","font":"Open Sans","fontSize":12.5,"color":"#555555","align":"center","baseline":"middle"},"encoding":{"x":{"field":"tmid","type":"quantitative"},"y":{"datum":-496},"text":{"field":"label","type":"nominal"}}}
]},
{"width":150,"height":176,"data":{"name":"table"},"transform":[{"filter":"datum.ref === 'D'"}],"mark":{"type":"text","font":"Open Sans","fontSize":23,"color":"#5e5e5e","lineBreak":"\n","lineHeight":30,"align":"center","baseline":"middle"},"encoding":{"text":{"field":"masker","type":"nominal"}}},
{"width":155,"height":176,"data":{"name":"table"},"transform":[{"filter":"datum.ref === 'D'"}],"mark":{"type":"text","font":"Open Sans","fontSize":23,"color":"#5e5e5e","lineBreak":"\n","lineHeight":30,"align":"center","baseline":"middle"},"encoding":{"text":{"field":"targets","type":"nominal"}}},
{"width":153,"height":176,"data":{"name":"table"},"transform":[{"filter":"datum.ref === 'D'"}],"mark":{"type":"text","font":"Open Sans","fontSize":23,"color":"#5e5e5e","lineBreak":"\n","lineHeight":30,"align":"center","baseline":"middle"},"encoding":{"text":{"field":"protected","type":"nominal"}}},
{"width":91,"height":176,"data":{"name":"table"},"transform":[{"filter":"datum.ref === 'D'"}],"mark":{"type":"text","font":"Open Sans","fontSize":26,"fontWeight":"bold","color":"#5a5a5a","align":"center","baseline":"middle"},"encoding":{"text":{"field":"ref","type":"nominal"}}}
],"spacing":0,"bounds":"flush"},

{"hconcat":[
{"width":145,"height":314,"data":{"name":"table"},"transform":[{"filter":"datum.ref === 'E'"}],"mark":{"type":"text","font":"Open Sans","fontSize":22,"fontWeight":"bold","color":"#5e5e5e","lineBreak":"\n","lineHeight":31,"align":"center","baseline":"middle","dy":-15.5},"encoding":{"text":{"field":"article","type":"nominal"}}},
{"width":98,"height":314,"data":{"name":"stim"},"transform":[{"filter":"datum.ref === 'E' && datum.panel === 'SB'"}],"layer":[
{"transform":[{"filter":"datum.kind === 'masker'"}],"mark":{"type":"rule","stroke":"#c2c2c2","strokeWidth":3},"encoding":{"x":{"field":"t0","type":"quantitative","scale":{"domain":[-80.2,62.7],"nice":false,"zero":false}},"x2":{"field":"t1"},"y":{"field":"f","type":"quantitative","scale":{"domain":[-2287,7438],"nice":false,"zero":false}}}},
{"transform":[{"filter":"datum.kind === 'target'"}],"mark":{"type":"rule","stroke":"#555555","strokeWidth":3},"encoding":{"x":{"field":"t0","type":"quantitative"},"x2":{"field":"t1"},"y":{"field":"f","type":"quantitative"}}},
{"transform":[{"filter":"datum.kind === 'wave'"}],"mark":{"type":"point","shape":"M-16.5,2.7c0,-3.2,2.1,-5.4,4.9,-5.4c2.1,0,5.6,5.4,9.2,5.4c0,-3.2,2.1,-5.4,4.9,-5.4c2.1,0,5.6,5.4,9.2,5.4c0,-3.2,2.1,-5.4,4.9,-5.4","size":4,"filled":false,"stroke":"#86d3cf","strokeWidth":1.3,"opacity":1},"encoding":{"x":{"field":"t","type":"quantitative"},"y":{"field":"f","type":"quantitative"}}},
{"transform":[{"filter":"datum.kind === 'scale'"}],"mark":{"type":"rule","stroke":"#5a5a5a","strokeWidth":1.5},"encoding":{"x":{"datum":-7.3},"y":{"datum":-160},"y2":{"datum":5130}}},
{"transform":[{"filter":"datum.kind === 'scale'"}],"mark":{"type":"point","shape":"M0,0L2.6,8L-2.6,8Z","size":4,"filled":true,"color":"#5a5a5a","opacity":1},"encoding":{"x":{"datum":-7.3},"y":{"datum":5150}}},
{"transform":[{"filter":"datum.kind === 'axis'"}],"mark":{"type":"text","font":"Open Sans","fontSize":12.5,"color":"#555555","align":"right","baseline":"middle","dx":-10},"encoding":{"x":{"datum":-7.3},"y":{"field":"f","type":"quantitative"},"text":{"field":"label","type":"nominal"}}},
{"transform":[{"filter":"datum.kind === 'scale'"}],"mark":{"type":"rule","stroke":"#5a5a5a","strokeWidth":1.3},"encoding":{"x":{"field":"t0","type":"quantitative"},"x2":{"field":"t1"},"y":{"datum":-128}}},
{"transform":[{"filter":"datum.kind === 'scale'"}],"mark":{"type":"point","shape":"M0,-3L0,3","size":4,"filled":false,"stroke":"#5a5a5a","strokeWidth":1.3,"opacity":1},"encoding":{"x":{"field":"t0","type":"quantitative"},"y":{"datum":-128}}},
{"transform":[{"filter":"datum.kind === 'scale'"}],"mark":{"type":"point","shape":"M0,-3L0,3","size":4,"filled":false,"stroke":"#5a5a5a","strokeWidth":1.3,"opacity":1},"encoding":{"x":{"field":"t1","type":"quantitative"},"y":{"datum":-128}}},
{"transform":[{"filter":"datum.kind === 'scale'"}],"mark":{"type":"text","font":"Open Sans","fontSize":12.5,"color":"#555555","align":"center","baseline":"middle"},"encoding":{"x":{"field":"tmid","type":"quantitative"},"y":{"datum":-590},"text":{"field":"label","type":"nominal"}}},
{"transform":[{"filter":"datum.kind === 'panel'"}],"mark":{"type":"text","font":"Liberation Sans","fontSize":14,"fontWeight":"bold","color":"#555555","align":"left","baseline":"middle"},"encoding":{"x":{"datum":0},"y":{"datum":5725},"text":{"field":"label","type":"nominal"}}}
]},
{"width":164,"height":314,"data":{"name":"stim"},"transform":[{"filter":"datum.ref === 'E' && datum.panel === 'MBS'"}],"layer":[
{"transform":[{"filter":"datum.kind === 'masker'"}],"mark":{"type":"rule","stroke":"#c2c2c2","strokeWidth":3},"encoding":{"x":{"field":"t0","type":"quantitative","scale":{"domain":[-18.5,220.6],"nice":false,"zero":false}},"x2":{"field":"t1"},"y":{"field":"f","type":"quantitative","scale":{"domain":[-2287,7438],"nice":false,"zero":false}}}},
{"transform":[{"filter":"datum.kind === 'target'"}],"mark":{"type":"rule","stroke":"#555555","strokeWidth":3},"encoding":{"x":{"field":"t0","type":"quantitative"},"x2":{"field":"t1"},"y":{"field":"f","type":"quantitative"}}},
{"transform":[{"filter":"datum.kind === 'wave'"}],"mark":{"type":"point","shape":"M-73,2.7c0,-3.2,2.1,-5.4,4.9,-5.4c2.1,0,5.6,5.4,9.2,5.4c0,-3.2,2.1,-5.4,4.9,-5.4c2.1,0,5.6,5.4,9.2,5.4c0,-3.2,2.1,-5.4,4.9,-5.4c2.1,0,5.6,5.4,9.2,5.4c0,-3.2,2.1,-5.4,4.9,-5.4c2.1,0,5.6,5.4,9.2,5.4c0,-3.2,2.1,-5.4,4.9,-5.4c2.1,0,5.6,5.4,9.2,5.4c0,-3.2,2.1,-5.4,4.9,-5.4c2.1,0,5.6,5.4,9.2,5.4c0,-3.2,2.1,-5.4,4.9,-5.4c2.1,0,5.6,5.4,9.2,5.4c0,-3.2,2.1,-5.4,4.9,-5.4c2.1,0,5.6,5.4,9.2,5.4c0,-3.2,2.1,-5.4,4.9,-5.4c2.1,0,5.6,5.4,9.2,5.4c0,-3.2,2.1,-5.4,4.9,-5.4c2.1,0,5.6,5.4,9.2,5.4c0,-3.2,2.1,-5.4,4.9,-5.4","size":4,"filled":false,"stroke":"#86d3cf","strokeWidth":1.3,"opacity":1},"encoding":{"x":{"field":"t","type":"quantitative"},"y":{"field":"f","type":"quantitative"}}},
{"transform":[{"filter":"datum.kind === 'scale'"}],"mark":{"type":"rule","stroke":"#5a5a5a","strokeWidth":1.5},"encoding":{"x":{"datum":-8.3},"y":{"datum":-160},"y2":{"datum":5130}}},
{"transform":[{"filter":"datum.kind === 'scale'"}],"mark":{"type":"point","shape":"M0,0L2.6,8L-2.6,8Z","size":4,"filled":true,"color":"#5a5a5a","opacity":1},"encoding":{"x":{"datum":-8.3},"y":{"datum":5150}}},
{"transform":[{"filter":"datum.kind === 'scale'"}],"mark":{"type":"rule","stroke":"#5a5a5a","strokeWidth":1.3},"encoding":{"x":{"field":"t0","type":"quantitative"},"x2":{"field":"t1"},"y":{"datum":-128}}},
{"transform":[{"filter":"datum.kind === 'scale'"}],"mark":{"type":"point","shape":"M0,-3L0,3","size":4,"filled":false,"stroke":"#5a5a5a","strokeWidth":1.3,"opacity":1},"encoding":{"x":{"field":"t0","type":"quantitative"},"y":{"datum":-128}}},
{"transform":[{"filter":"datum.kind === 'scale'"}],"mark":{"type":"point","shape":"M0,-3L0,3","size":4,"filled":false,"stroke":"#5a5a5a","strokeWidth":1.3,"opacity":1},"encoding":{"x":{"field":"t1","type":"quantitative"},"y":{"datum":-128}}},
{"transform":[{"filter":"datum.kind === 'scale'"}],"mark":{"type":"text","font":"Open Sans","fontSize":12.5,"color":"#555555","align":"center","baseline":"middle"},"encoding":{"x":{"field":"tmid","type":"quantitative"},"y":{"datum":-555},"text":{"field":"label","type":"nominal"}}},
{"transform":[{"filter":"datum.kind === 'panel'"}],"mark":{"type":"text","font":"Liberation Sans","fontSize":14,"fontWeight":"bold","color":"#555555","align":"left","baseline":"middle","dx":2},"encoding":{"x":{"datum":0},"y":{"datum":5725},"text":{"field":"label","type":"nominal"}}}
]},
{"width":178,"height":314,"data":{"name":"stim"},"transform":[{"filter":"datum.ref === 'E' && datum.panel === 'MBD'"}],"layer":[
{"transform":[{"filter":"datum.kind === 'masker'"}],"mark":{"type":"rule","stroke":"#c2c2c2","strokeWidth":3},"encoding":{"x":{"field":"t0","type":"quantitative","scale":{"domain":[-19,240.6],"nice":false,"zero":false}},"x2":{"field":"t1"},"y":{"field":"f","type":"quantitative","scale":{"domain":[-2287,7438],"nice":false,"zero":false}}}},
{"transform":[{"filter":"datum.kind === 'target'"}],"mark":{"type":"rule","stroke":"#555555","strokeWidth":3},"encoding":{"x":{"field":"t0","type":"quantitative"},"x2":{"field":"t1"},"y":{"field":"f","type":"quantitative"}}},
{"transform":[{"filter":"datum.kind === 'wave'"}],"mark":{"type":"point","shape":"M-70.5,2.7c0,-3.2,2.1,-5.4,4.9,-5.4c2.1,0,5.6,5.4,9.2,5.4c0,-3.2,2.1,-5.4,4.9,-5.4c2.1,0,5.6,5.4,9.2,5.4c0,-3.2,2.1,-5.4,4.9,-5.4c2.1,0,5.6,5.4,9.2,5.4c0,-3.2,2.1,-5.4,4.9,-5.4c2.1,0,5.6,5.4,9.2,5.4c0,-3.2,2.1,-5.4,4.9,-5.4c2.1,0,5.6,5.4,9.2,5.4c0,-3.2,2.1,-5.4,4.9,-5.4c2.1,0,5.6,5.4,9.2,5.4c0,-3.2,2.1,-5.4,4.9,-5.4c2.1,0,5.6,5.4,9.2,5.4c0,-3.2,2.1,-5.4,4.9,-5.4c2.1,0,5.6,5.4,9.2,5.4c0,-3.2,2.1,-5.4,4.9,-5.4c2.1,0,5.6,5.4,9.2,5.4c0,-3.2,2.1,-5.4,4.9,-5.4c2.1,0,5.6,5.4,9.2,5.4","size":4,"filled":false,"stroke":"#86d3cf","strokeWidth":1.3,"opacity":1},"encoding":{"x":{"field":"t","type":"quantitative"},"y":{"field":"f","type":"quantitative"}}},
{"transform":[{"filter":"datum.kind === 'scale'"}],"mark":{"type":"rule","stroke":"#5a5a5a","strokeWidth":1.5},"encoding":{"x":{"datum":-10.6},"y":{"datum":-160},"y2":{"datum":5080}}},
{"transform":[{"filter":"datum.kind === 'scale'"}],"mark":{"type":"point","shape":"M0,0L2.6,8L-2.6,8Z","size":4,"filled":true,"color":"#5a5a5a","opacity":1},"encoding":{"x":{"datum":-10.6},"y":{"datum":5100}}},
{"transform":[{"filter":"datum.kind === 'scale'"}],"mark":{"type":"rule","stroke":"#5a5a5a","strokeWidth":1.3},"encoding":{"x":{"field":"t0","type":"quantitative"},"x2":{"field":"t1"},"y":{"datum":-212}}},
{"transform":[{"filter":"datum.kind === 'scale'"}],"mark":{"type":"point","shape":"M0,-3L0,3","size":4,"filled":false,"stroke":"#5a5a5a","strokeWidth":1.3,"opacity":1},"encoding":{"x":{"field":"t0","type":"quantitative"},"y":{"datum":-212}}},
{"transform":[{"filter":"datum.kind === 'scale'"}],"mark":{"type":"point","shape":"M0,-3L0,3","size":4,"filled":false,"stroke":"#5a5a5a","strokeWidth":1.3,"opacity":1},"encoding":{"x":{"field":"t1","type":"quantitative"},"y":{"datum":-212}}},
{"transform":[{"filter":"datum.kind === 'scale'"}],"mark":{"type":"text","font":"Open Sans","fontSize":12.5,"color":"#555555","align":"center","baseline":"middle"},"encoding":{"x":{"field":"tmid","type":"quantitative"},"y":{"datum":-645},"text":{"field":"label","type":"nominal"}}},
{"transform":[{"filter":"datum.kind === 'panel'"}],"mark":{"type":"text","font":"Liberation Sans","fontSize":14,"fontWeight":"bold","color":"#555555","align":"left","baseline":"middle"},"encoding":{"x":{"datum":0},"y":{"datum":5725},"text":{"field":"label","type":"nominal"}}}
]},
{"width":150,"height":314,"data":{"name":"table"},"transform":[{"filter":"datum.ref === 'E'"}],"mark":{"type":"text","font":"Open Sans","fontSize":23,"color":"#5e5e5e","lineBreak":"\n","lineHeight":30,"align":"center","baseline":"middle"},"encoding":{"text":{"field":"masker","type":"nominal"}}},
{"width":155,"height":314,"data":{"name":"table"},"transform":[{"filter":"datum.ref === 'E'"}],"mark":{"type":"text","font":"Open Sans","fontSize":23,"color":"#5e5e5e","lineBreak":"\n","lineHeight":30,"align":"center","baseline":"middle","dx":-2},"encoding":{"text":{"field":"targets","type":"nominal"}}},
{"width":153,"height":314,"data":{"name":"table"},"transform":[{"filter":"datum.ref === 'E'"}],"mark":{"type":"text","font":"Open Sans","fontSize":23,"color":"#5e5e5e","lineBreak":"\n","lineHeight":30,"align":"center","baseline":"middle"},"encoding":{"text":{"field":"protected","type":"nominal"}}},
{"width":91,"height":314,"data":{"name":"table"},"transform":[{"filter":"datum.ref === 'E'"}],"mark":{"type":"text","font":"Open Sans","fontSize":26,"fontWeight":"bold","color":"#5a5a5a","align":"center","baseline":"middle"},"encoding":{"text":{"field":"ref","type":"nominal"}}}
],"spacing":0,"bounds":"flush"},

{"hconcat":[
{"width":145,"height":138,"data":{"name":"table"},"transform":[{"filter":"datum.ref === 'F'"}],"mark":{"type":"text","font":"Open Sans","fontSize":22,"fontWeight":"bold","color":"#5e5e5e","lineBreak":"\n","lineHeight":31,"align":"center","baseline":"middle","dy":-27},"encoding":{"text":{"field":"article","type":"nominal"}}},
{"width":440,"height":138,"data":{"name":"stim"},"transform":[{"filter":"datum.ref === 'F'"}],"layer":[
{"transform":[{"filter":"datum.kind === 'masker'"}],"mark":{"type":"rule","stroke":"#c2c2c2","strokeWidth":3},"encoding":{"x":{"field":"t0","type":"quantitative","scale":{"domain":[-341.8,433.5],"nice":false,"zero":false}},"x2":{"field":"t1"},"y":{"field":"f","type":"quantitative","scale":{"domain":[-658,3459],"nice":false,"zero":false}}}},
{"transform":[{"filter":"datum.kind === 'target'"}],"mark":{"type":"rule","stroke":"#555555","strokeWidth":3},"encoding":{"x":{"field":"t0","type":"quantitative"},"x2":{"field":"t1"},"y":{"field":"f","type":"quantitative"}}},
{"transform":[{"filter":"datum.kind === 'wave'"}],"mark":{"type":"point","shape":"M-56.5,2.7c0,-3.2,2.1,-5.4,4.9,-5.4c2.1,0,5.6,5.4,9.2,5.4c0,-3.2,2.1,-5.4,4.9,-5.4c2.1,0,5.6,5.4,9.2,5.4c0,-3.2,2.1,-5.4,4.9,-5.4c2.1,0,5.6,5.4,9.2,5.4c0,-3.2,2.1,-5.4,4.9,-5.4c2.1,0,5.6,5.4,9.2,5.4c0,-3.2,2.1,-5.4,4.9,-5.4c2.1,0,5.6,5.4,9.2,5.4c0,-3.2,2.1,-5.4,4.9,-5.4c2.1,0,5.6,5.4,9.2,5.4c0,-3.2,2.1,-5.4,4.9,-5.4c2.1,0,5.6,5.4,9.2,5.4c0,-3.2,2.1,-5.4,4.9,-5.4c2.1,0,5.6,5.4,9.2,5.4","size":4,"filled":false,"stroke":"#86d3cf","strokeWidth":1.3,"opacity":1},"encoding":{"x":{"field":"t","type":"quantitative"},"y":{"field":"f","type":"quantitative"}}},
{"transform":[{"filter":"datum.kind === 'scale'"}],"mark":{"type":"rule","stroke":"#5a5a5a","strokeWidth":1.5},"encoding":{"x":{"datum":-16},"y":{"datum":-97},"y2":{"datum":3315}}},
{"transform":[{"filter":"datum.kind === 'scale'"}],"mark":{"type":"point","shape":"M0,0L2.6,8L-2.6,8Z","size":4,"filled":true,"color":"#5a5a5a","opacity":1},"encoding":{"x":{"datum":-16},"y":{"datum":3330}}},
{"transform":[{"filter":"datum.kind === 'axis'"}],"mark":{"type":"text","font":"Open Sans","fontSize":12.5,"color":"#555555","align":"right","baseline":"middle","dx":-11},"encoding":{"x":{"datum":-16},"y":{"field":"f","type":"quantitative"},"text":{"field":"label","type":"nominal"}}},
{"transform":[{"filter":"datum.kind === 'scale'"}],"mark":{"type":"rule","stroke":"#5a5a5a","strokeWidth":1.3},"encoding":{"x":{"field":"t0","type":"quantitative"},"x2":{"field":"t1"},"y":{"datum":-40}}},
{"transform":[{"filter":"datum.kind === 'scale'"}],"mark":{"type":"point","shape":"M0,-3L0,3","size":4,"filled":false,"stroke":"#5a5a5a","strokeWidth":1.3,"opacity":1},"encoding":{"x":{"field":"t0","type":"quantitative"},"y":{"datum":-40}}},
{"transform":[{"filter":"datum.kind === 'scale'"}],"mark":{"type":"point","shape":"M0,-3L0,3","size":4,"filled":false,"stroke":"#5a5a5a","strokeWidth":1.3,"opacity":1},"encoding":{"x":{"field":"t1","type":"quantitative"},"y":{"datum":-40}}},
{"transform":[{"filter":"datum.kind === 'scale'"}],"mark":{"type":"text","font":"Open Sans","fontSize":12.5,"color":"#555555","align":"center","baseline":"middle"},"encoding":{"x":{"field":"tmid","type":"quantitative"},"y":{"datum":-428},"text":{"field":"label","type":"nominal"}}}
]},
{"width":150,"height":138,"data":{"name":"table"},"transform":[{"filter":"datum.ref === 'F'"}],"mark":{"type":"text","font":"Open Sans","fontSize":23,"color":"#5e5e5e","lineBreak":"\n","lineHeight":30,"align":"center","baseline":"middle","dy":-11},"encoding":{"text":{"field":"masker","type":"nominal"}}},
{"width":155,"height":138,"data":{"name":"table"},"transform":[{"filter":"datum.ref === 'F'"}],"mark":{"type":"text","font":"Open Sans","fontSize":23,"color":"#5e5e5e","lineBreak":"\n","lineHeight":30,"align":"center","baseline":"middle","dy":4},"encoding":{"text":{"field":"targets","type":"nominal"}}},
{"width":153,"height":138,"data":{"name":"table"},"transform":[{"filter":"datum.ref === 'F'"}],"mark":{"type":"text","font":"Open Sans","fontSize":23,"color":"#5e5e5e","lineBreak":"\n","lineHeight":30,"align":"center","baseline":"middle","dy":4},"encoding":{"text":{"field":"protected","type":"nominal"}}},
{"width":91,"height":138,"data":{"name":"table"},"transform":[{"filter":"datum.ref === 'F'"}],"mark":{"type":"text","font":"Open Sans","fontSize":26,"fontWeight":"bold","color":"#5a5a5a","align":"center","baseline":"middle","dy":4},"encoding":{"text":{"field":"ref","type":"nominal"}}}
],"spacing":0,"bounds":"flush"}
]
}
